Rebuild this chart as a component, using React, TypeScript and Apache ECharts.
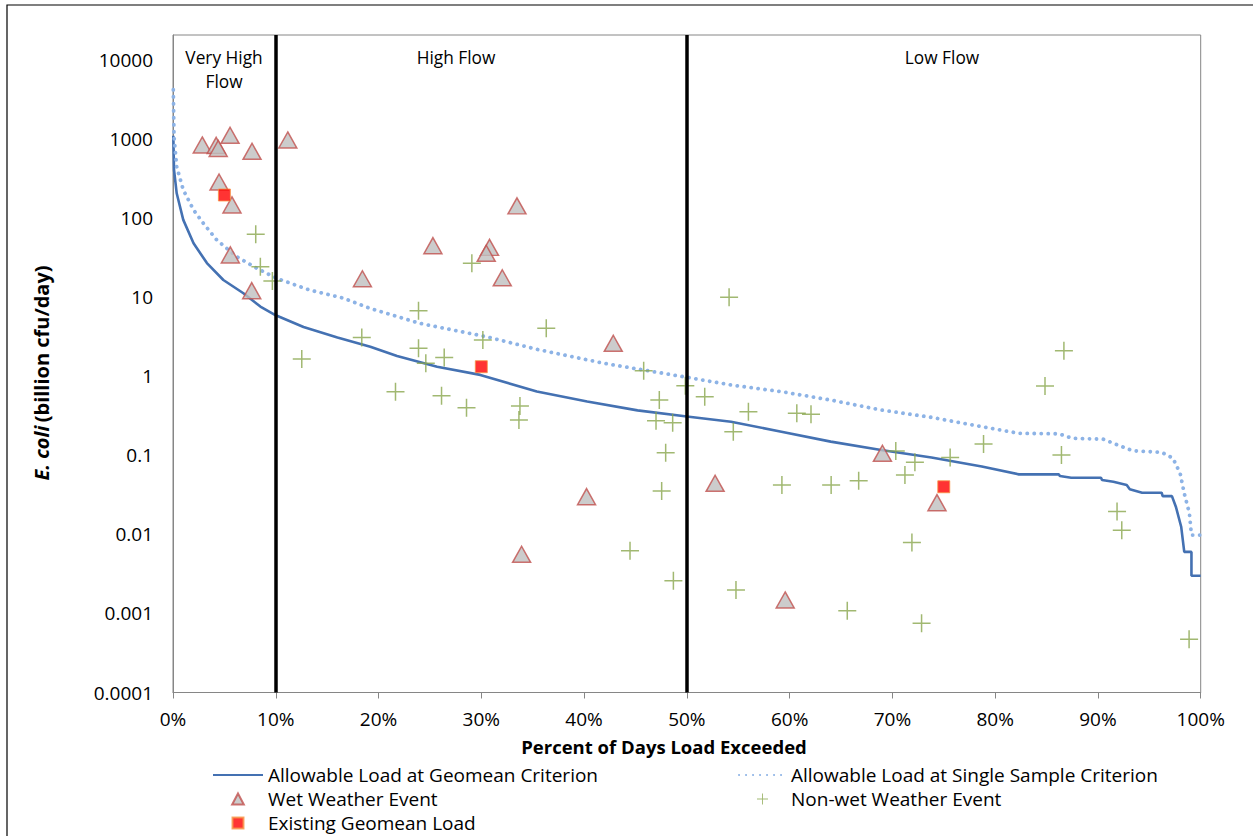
import React, { useEffect, useRef } from "react";
import * as echarts from "echarts";

const FONT = '"Open Sans", "Noto Sans", sans-serif';

// Percent of days exceeded (x) vs E. coli load, billion cfu/day (y)
const geomeanCurve: [number, number][] = [
  [0.03, 1100], [0.1, 406], [0.36, 206], [1, 95], [2, 48], [3.3, 27], [4.9, 16.5],
  [6.85, 11.2], [8.5, 7.6], [10, 5.9], [12.7, 4.2], [16, 3.1], [19.2, 2.36], [21.8, 1.8],
  [25.7, 1.32], [29.9, 1.04], [35.4, 0.64], [40.3, 0.48], [45.2, 0.37], [50, 0.31],
  [54.3, 0.266], [59.2, 0.199], [64, 0.149], [68.9, 0.117], [73.8, 0.094], [78.7, 0.072],
  [82.3, 0.0574], [86.2, 0.0574], [86.3, 0.0547], [87.4, 0.0521], [90.3, 0.0521],
  [90.4, 0.0488], [91.5, 0.0464], [92.8, 0.042], [93.1, 0.0371], [94.3, 0.0336],
  [96.2, 0.0336], [96.3, 0.0305], [97.2, 0.0305], [97.6, 0.022], [98.1, 0.0125],
  [98.4, 0.006], [99.1, 0.006], [99.1, 0.003], [100, 0.003],
];

const singleSampleCurve: [number, number][] = [
  [0.03, 4200], [0.1, 1070], [0.36, 447], [1, 227], [2, 127], [2.95, 86], [4.25, 53],
  [6.2, 32.5], [8.15, 23.2], [10.1, 17.3], [13.3, 12.3], [16.6, 9.7], [19.2, 7.2],
  [24, 4.67], [30.5, 3.16], [35.4, 2.19], [41.9, 1.46], [50, 0.97], [54.3, 0.775],
  [59.2, 0.638], [64, 0.5], [68.9, 0.374], [73.8, 0.302], [78.7, 0.23], [82.3, 0.19],
  [86.2, 0.187], [87.5, 0.164], [90.5, 0.16], [92.4, 0.128], [93.4, 0.114], [96.2, 0.109],
  [97.3, 0.092], [98, 0.059], [98.4, 0.033], [98.9, 0.0185], [99.1, 0.0098], [100, 0.0098],
];

const wetEvents: [number, number][] = [
  [2.85, 841], [4.2, 830], [4.4, 760], [5.55, 1115], [7.69, 700], [11.17, 973],
  [4.48, 286], [5.74, 147], [5.58, 34.2], [7.66, 12.1], [18.43, 17.1], [33.47, 143],
  [25.29, 44.8], [30.8, 42.7], [30.48, 35.9], [32.04, 17.6], [42.84, 2.61], [40.24, 0.03],
  [33.92, 0.0056], [52.75, 0.0443], [59.57, 0.00148], [69.03, 0.106], [74.34, 0.0252],
];

const nonWetEvents: [number, number][] = [
  [8.05, 62.4], [8.5, 24.3], [9.67, 16.0], [12.53, 1.65], [18.37, 3.1], [21.65, 0.638],
  [23.89, 6.74], [23.89, 2.26], [24.6, 1.46], [26.13, 0.568], [26.39, 1.73], [28.56, 0.4],
  [29.08, 26.8], [30.15, 2.87], [33.66, 0.279], [33.76, 0.42], [36.32, 4.04], [44.47, 0.0062],
  [45.8, 1.17], [47.0, 0.274], [47.32, 0.5], [47.55, 0.0353], [47.94, 0.108], [48.62, 0.258],
  [48.69, 0.0026], [49.85, 0.76], [51.74, 0.55], [54.11, 9.96], [54.52, 0.199], [54.78, 0.00198],
  [55.99, 0.356], [59.25, 0.042], [60.7, 0.34], [62.08, 0.33], [64.04, 0.042], [65.61, 0.00108],
  [66.72, 0.0477], [70.33, 0.113], [71.22, 0.0563], [71.9, 0.0079], [72.19, 0.0815],
  [72.84, 0.00075], [75.62, 0.094], [78.87, 0.139], [84.85, 0.753], [86.45, 0.101],
  [86.69, 2.1], [91.86, 0.0194], [92.32, 0.0113], [98.87, 0.00047],
];

const geomeanLoads: [number, number][] = [
  [5, 196], [30, 1.32], [75, 0.04],
];

const flowZoneBreaks = [10, 50];
const xTicks = { min: 0, max: 100, interval: 10 };

const NAME_GEO = "Allowable Load at Geomean Criterion";
const NAME_SS = "Allowable Load at Single Sample Criterion";
const NAME_WET = "Wet Weather Event";
const NAME_DRY = "Non-wet Weather Event";
const NAME_EXIST = "Existing Geomean Load";

const PLUS = "path://M11,0H13V11H24V13H13V24H11V13H0V11H11Z";
const TRIANGLE = "path://M9,0L18,17L0,17Z";
const SQUARE = "path://M0,0H10V10H0Z";

export default function App() {
  const ref = useRef<HTMLDivElement>(null);
  useEffect(() => {
    if (!ref.current) return;
    const chart = echarts.init(ref.current, undefined, { renderer: "svg" });
    const textBase = { fontFamily: FONT, fontSize: 19, color: "#000" };
    const hideSym = { itemStyle: { opacity: 0, color: "transparent", borderColor: "transparent" } };
    chart.setOption({
      animation: false,
      backgroundColor: "#fff",
      grid: {
        left: 173, top: 35, width: 1027.7, height: 657.5,
        show: true, borderColor: "#868686", borderWidth: 1, backgroundColor: "transparent",
      },
      xAxis: {
        type: "value",
        min: xTicks.min, max: xTicks.max, interval: xTicks.interval,
        axisLine: { show: true, lineStyle: { color: "#868686", width: 1 } },
        axisTick: { show: true, length: 6, lineStyle: { color: "#868686" } },
        splitLine: { show: false },
        axisLabel: { ...textBase, margin: 17, formatter: "{value}%" },
      },
      yAxis: {
        type: "log",
        logBase: 10,
        min: 0.0001,
        max: 20700,
        axisLine: { show: true, lineStyle: { color: "#868686", width: 1 } },
        axisTick: { show: false },
        splitLine: { show: false },
        axisLabel: {
          ...textBase,
          margin: 20,
          showMaxLabel: true,
          formatter: (v: number) => {
            const l = Math.log10(v);
            const r = Math.round(l);
            if (Math.abs(l - r) > 1e-6 || r > 4 || r < -4) return "";
            return r >= 0 ? String(Math.pow(10, r)) : Math.pow(10, r).toFixed(-r);
          },
        },
      },
      legend: [
        {
          orient: "vertical", left: 212, top: 763, padding: 0,
          itemWidth: 50, itemHeight: 11, itemGap: 0, selectedMode: false,
          textStyle: { ...textBase, lineHeight: 24 },
          data: [{ name: NAME_GEO, ...hideSym }, NAME_WET, NAME_EXIST],
        },
        {
          orient: "vertical", left: 738, top: 763, padding: 0,
          itemWidth: 47, itemHeight: 11, itemGap: 0, selectedMode: false,
          textStyle: { ...textBase, lineHeight: 24 },
          data: [{ name: NAME_SS, ...hideSym }, NAME_DRY],
        },
      ],
      graphic: [
        {
          type: "rect", silent: true, z: 0,
          shape: { x: 7, y: 5, width: 1400, height: 1000 },
          style: { fill: "none", stroke: "#000", lineWidth: 1.2 },
        },
        {
          type: "text", x: 224, y: 69,
          style: { text: "Very High\nFlow", fontFamily: FONT, fontSize: 17.3, lineHeight: 24, fill: "#000", align: "center", verticalAlign: "middle" },
        },
        {
          type: "text", x: 456, y: 57,
          style: { text: "High Flow", fontFamily: FONT, fontSize: 17.3, fill: "#000", align: "center", verticalAlign: "middle" },
        },
        {
          type: "text", x: 942, y: 57,
          style: { text: "Low Flow", fontFamily: FONT, fontSize: 17.3, fill: "#000", align: "center", verticalAlign: "middle" },
        },
        {
          type: "text", x: 664, y: 746,
          style: { text: "Percent of Days Load Exceeded", fontFamily: FONT, fontSize: 18.5, fontWeight: "bold", fill: "#000", align: "center", verticalAlign: "middle" },
        },
        {
          type: "text", x: 41, y: 373, rotation: Math.PI / 2,
          style: {
            text: "{a|E. coli} {b|(billion cfu/day)}",
            align: "center", verticalAlign: "middle",
            rich: {
              a: { fontFamily: FONT, fontSize: 20, fontWeight: "bold", fontStyle: "italic", fill: "#000" },
              b: { fontFamily: FONT, fontSize: 20, fontWeight: "bold", fill: "#000" },
            },
          },
        },
      ],
      series: [
        {
          name: NAME_GEO, type: "line", data: geomeanCurve, symbol: "none", z: 2,
          lineStyle: { color: "#4471B2", width: 2.6 }, itemStyle: { color: "#4471B2" },
          markLine: {
            silent: true, symbol: "none", label: { show: false },
            lineStyle: { color: "#000", width: 3.5, type: "solid" },
            data: flowZoneBreaks.map((x) => ({ xAxis: x })),
          },
        },
        {
          name: NAME_SS, type: "line", data: singleSampleCurve, symbol: "none", z: 2,
          lineStyle: { color: "#8DB3E6", width: 3.8, type: [0.1, 6.9], cap: "round" },
          itemStyle: { color: "#8DB3E6" },
        },
        {
          name: NAME_WET, type: "scatter", data: wetEvents, symbol: TRIANGLE, symbolSize: [18, 17],
          symbolKeepAspect: true, z: 3,
          itemStyle: { color: "#BFBFBF", borderColor: "#C0504D", borderWidth: 1.5 },
        },
        {
          name: NAME_DRY, type: "scatter", data: nonWetEvents, symbol: PLUS, symbolSize: 18,
          symbolKeepAspect: true, z: 4,
          itemStyle: { color: "#8AA64E" },
        },
        {
          name: NAME_EXIST, type: "scatter", data: geomeanLoads, symbol: SQUARE, symbolSize: 12,
          symbolKeepAspect: true, z: 5,
          itemStyle: { color: "#FF0000", borderColor: "#F79646", borderWidth: 1 },
        },
      ],
    });
    return () => chart.dispose();
  }, []);
  return (
    <div
      ref={ref}
      style={{ position: "absolute", left: 0, top: 0, width: 1253, height: 836, background: "#fff" }}
    />
  );
}
